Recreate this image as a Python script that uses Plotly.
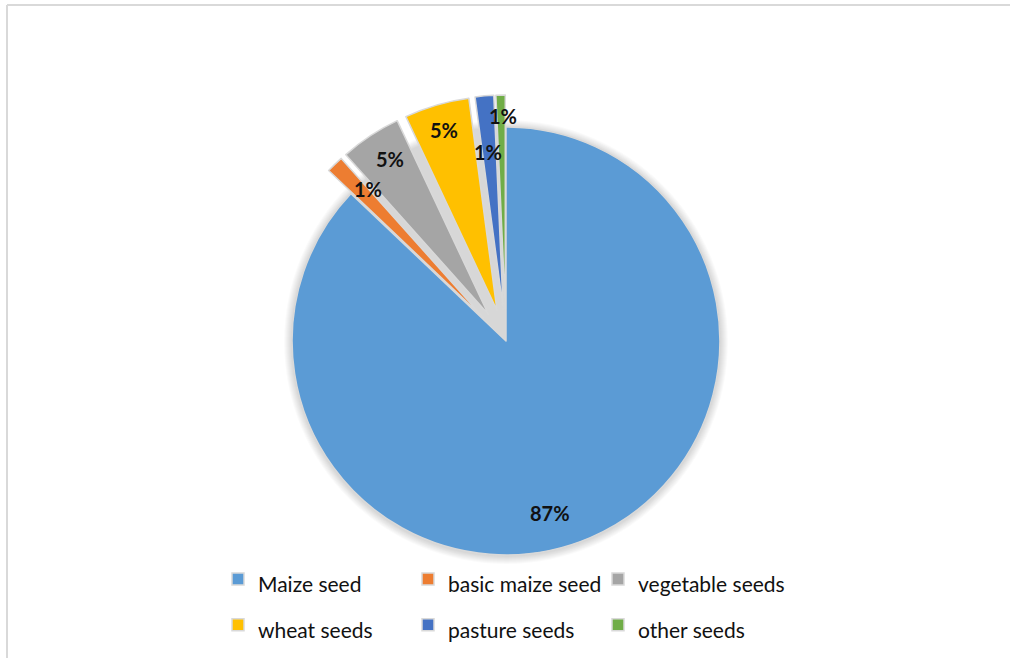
import math
import plotly.graph_objects as go

categories = ["Maize seed", "basic maize seed", "vegetable seeds", "wheat seeds", "pasture seeds", "other seeds"]
values = [87.1, 1.3, 4.6, 4.9, 1.4, 0.7]
colors = ["#5B9BD5", "#ED7D31", "#A5A5A5", "#FFC000", "#4472C4", "#70AD47"]
pulls = [0, 0.15, 0.15, 0.15, 0.15, 0.15]
# label placement style: radial distance (fraction of radius) and angular nudge (deg)
label_radius = [0.83, 0.96, 1.01, 1.03, 0.89, 1.05]
label_nudge = [9, 2, 1, 0, -0.5, 0.5]

W, H = 1010, 658
L, R, T, B = 186, 184, 95, 71
PW, PH = W - L - R, H - T - B
LEG_BW = 12

def px_x(v):
    return (v - L) / PW

def px_y(v):
    return (H - B - v) / PH

legend_labels = ['<span style="font-size:21px">%s</span>' % c for c in categories]

fig = go.Figure(go.Pie(
    labels=legend_labels,
    values=values,
    sort=False,
    direction="clockwise",
    rotation=0,
    pull=pulls,
    marker=dict(colors=colors, line=dict(color="#D9D9D9", width=1.5)),
    textinfo="none",
    hoverinfo="skip",
))

cx = L + PW / 2
cy = T + PH / 2
rad = PH / (2 * (1 + max(pulls)))

# soft shadow around the pie
shapes = []
for k in range(1, 9):
    rr = rad + k
    shapes.append(dict(type="circle", xref="paper", yref="paper",
                       x0=px_x(cx - rr), x1=px_x(cx + rr),
                       y0=px_y(cy + rr + 1), y1=px_y(cy - rr + 1),
                       line=dict(width=0), fillcolor="rgba(0,0,0,0.018)", layer="below"))
shapes += [
    dict(type="line", xref="paper", yref="paper",
         x0=px_x(7), x1=px_x(1030), y0=px_y(5), y1=px_y(5),
         line=dict(color="#D9D9D9", width=2), layer="below"),
    dict(type="line", xref="paper", yref="paper",
         x0=px_x(7), x1=px_x(7), y0=px_y(5), y1=px_y(680),
         line=dict(color="#D9D9D9", width=2), layer="below"),
]

# percentage labels positioned from the data (slice mid-angles)
total = sum(values)
cum = 0.0
annotations = []
for v, rf, nd in zip(values, label_radius, label_nudge):
    mid = (cum + v / 2) / total * 360 + nd
    cum += v
    a = math.radians(mid)
    x = cx + rf * rad * math.sin(a)
    y = cy - rf * rad * math.cos(a)
    annotations.append(dict(
        x=px_x(x), y=px_y(y), xref="paper", yref="paper",
        text="%d%%" % round(v / total * 100), showarrow=False,
        font=dict(family="Lato", size=20, color="#111111", weight="bold"),
        xanchor="center", yanchor="middle",
    ))

fig.update_layout(
    width=W, height=H,
    margin=dict(l=L, r=R, t=T, b=B, autoexpand=False),
    paper_bgcolor="white",
    plot_bgcolor="white",
    font=dict(family="Lato", color="#111111"),
    showlegend=True,
    annotations=annotations,
    shapes=shapes,
    legend=dict(
        orientation="h",
        x=px_x(218 - LEG_BW), xanchor="left",
        y=px_y(551 - LEG_BW), yanchor="top",
        entrywidth=145, entrywidthmode="pixels",
        font=dict(family="Lato", size=33, color="#111111"),
        bgcolor="rgba(0,0,0,0)",
        bordercolor="rgba(0,0,0,0)", borderwidth=LEG_BW,
        itemclick=False, itemdoubleclick=False,
    ),
)

fig.write_html("out.html")
